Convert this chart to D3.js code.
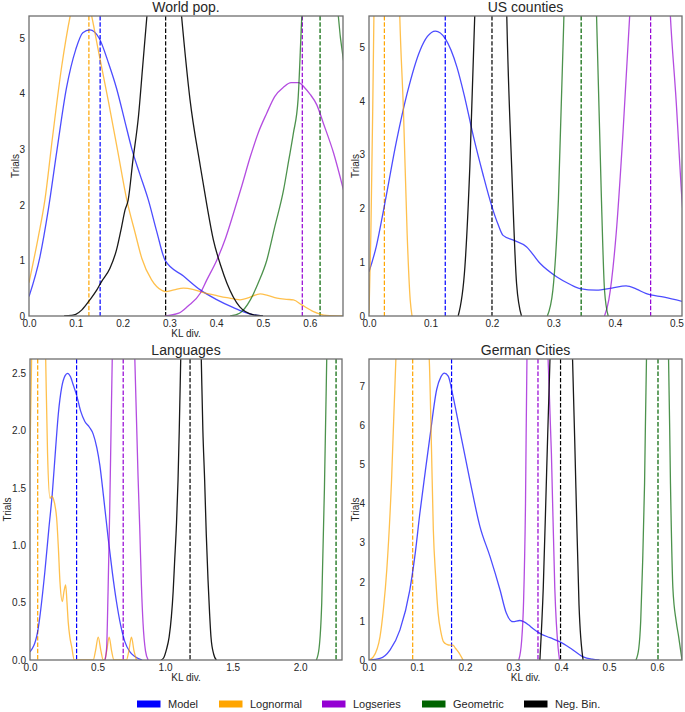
<!DOCTYPE html>
<html>
<head>
<meta charset="utf-8">
<script src="https://cdn.jsdelivr.net/npm/d3@7"></script>
<style>
  html, body { margin: 0; padding: 0; background: #fff; }
  svg { display: block; font-family: "Liberation Sans", Arial, sans-serif; }
</style>
</head>
<body>
<svg id="chart" width="685" height="712"></svg>
<script>
// ---------- DATA ----------
const seriesNames = ["Model", "Lognormal", "Logseries", "Geometric", "Neg. Bin."];
const seriesColors = ["#0000ff", "#ffa500", "#9400d3", "#006400", "#000000"];

// World pop. — KDE curves [KL div., Trials]
const worldModel = [[0,0.35],[0.0235,1.07],[0.041,1.9],[0.06,3.0],[0.08,4.1],[0.10,4.8],[0.115,5.1],[0.13,5.15],[0.15,5.0],[0.17,4.55],[0.187,4.1],[0.205,3.5],[0.22,3.0],[0.237,2.55],[0.255,2.09],[0.273,1.52],[0.291,1.0],[0.33,0.72],[0.366,0.47],[0.40,0.3],[0.437,0.15],[0.46,0.07],[0.48,0.02],[0.50,0]];
const worldLognormal = [[0,0.6],[0.002,0.68],[0.02,1.43],[0.034,2.09],[0.05,3.2],[0.07,4.5],[0.088,5.4],[0.105,6.0],[0.118,6.0],[0.134,5.4],[0.15,4.7],[0.17,3.85],[0.19,2.95],[0.209,2.09],[0.227,1.49],[0.241,1.04],[0.262,0.65],[0.284,0.46],[0.292,0.44],[0.31,0.47],[0.33,0.5],[0.35,0.48],[0.373,0.42],[0.40,0.37],[0.423,0.33],[0.451,0.29],[0.47,0.33],[0.494,0.4],[0.51,0.37],[0.53,0.32],[0.55,0.3],[0.565,0.29],[0.583,0.2],[0.608,0.08],[0.636,0.01],[0.67,0]];
const worldLogseries = [[0.29,0],[0.32,0.05],[0.34,0.18],[0.366,0.41],[0.38,0.65],[0.401,1.0],[0.42,1.4],[0.437,1.85],[0.455,2.35],[0.473,2.87],[0.49,3.3],[0.508,3.65],[0.525,3.95],[0.544,4.12],[0.56,4.2],[0.576,4.2],[0.59,4.1],[0.60,4.0],[0.615,3.8],[0.629,3.47],[0.651,2.93],[0.672,2.27]];
const worldGeometric = [[0.43,0],[0.45,0.05],[0.473,0.29],[0.49,0.6],[0.508,1.0],[0.525,1.6],[0.544,2.27],[0.555,2.8],[0.565,3.29],[0.575,3.9],[0.583,5.4],[0.60,7.5],[0.63,8.5],[0.65,7.0],[0.661,5.4],[0.672,4.6]];
const worldNegBin = [[0.075,0],[0.09,0.01],[0.10,0.03],[0.113,0.11],[0.13,0.29],[0.145,0.47],[0.155,0.62],[0.173,0.86],[0.187,1.19],[0.198,1.61],[0.205,1.9],[0.212,2.09],[0.222,2.8],[0.234,3.6],[0.243,4.5],[0.252,5.4],[0.27,7.0],[0.29,7.6],[0.31,7.0],[0.326,5.4],[0.344,3.9],[0.366,2.7],[0.38,2.0],[0.394,1.37],[0.41,0.9],[0.423,0.59],[0.45,0.17],[0.48,0.02],[0.50,0]];
const worldMedians = [0.152, 0.128, 0.584, 0.622, 0.292];

// US counties
const usModel = [[0,0.82],[0.012,1.3],[0.025,2.05],[0.045,3.27],[0.062,4.14],[0.083,4.94],[0.095,5.2],[0.108,5.3],[0.124,5.16],[0.143,4.63],[0.155,4.1],[0.17,3.33],[0.185,2.65],[0.20,2.03],[0.21,1.7],[0.218,1.5],[0.235,1.41],[0.256,1.29],[0.278,0.98],[0.305,0.73],[0.325,0.6],[0.343,0.51],[0.37,0.48],[0.395,0.52],[0.418,0.56],[0.435,0.5],[0.45,0.42],[0.48,0.35],[0.51,0.27]];
const usLognormal = [[0,0.05],[0.003,1.5],[0.006,3.8],[0.008,5.6],[0.015,12],[0.028,18],[0.04,12],[0.05,5.6],[0.056,3.83],[0.062,1.54],[0.067,0.3],[0.07,0]];
const usLogseries = [[0.383,0],[0.39,0.3],[0.402,1.54],[0.413,3.4],[0.424,5.6],[0.44,10],[0.458,12],[0.475,10],[0.49,5.6],[0.4995,4.0],[0.509,2.16],[0.52,0.8]];
const usGeometric = [[0.29,0],[0.299,0.48],[0.308,2.16],[0.317,5.6],[0.33,12],[0.345,14],[0.36,12],[0.37,5.6],[0.378,2.16],[0.383,0.48],[0.389,0]];
const usNegBin = [[0.145,0],[0.156,0.92],[0.164,2.78],[0.172,5.6],[0.185,12],[0.2,15],[0.215,12],[0.224,5.6],[0.232,2.78],[0.24,0.6],[0.248,0]];
const usMedians = [0.124, 0.025, 0.458, 0.345, 0.2];

// Languages
const langModel = [[0,0.07],[0.057,0.25],[0.11,0.77],[0.14,1.15],[0.165,1.45],[0.19,1.85],[0.21,2.15],[0.235,2.38],[0.26,2.48],[0.278,2.5],[0.30,2.47],[0.32,2.4],[0.345,2.31],[0.375,2.17],[0.406,2.08],[0.44,2.03],[0.468,1.97],[0.495,1.85],[0.517,1.7],[0.545,1.42],[0.579,1.06],[0.61,0.76],[0.64,0.51],[0.67,0.31],[0.702,0.16],[0.74,0.07],[0.776,0.03],[0.83,0]];
const langLognormal = [[0,1.8],[0.012,2.63],[0.03,4.0],[0.06,4.8],[0.09,4.2],[0.116,2.63],[0.13,1.8],[0.148,1.41],[0.16,1.43],[0.172,1.41],[0.197,1.24],[0.21,0.98],[0.222,0.68],[0.239,0.51],[0.252,0.6],[0.264,0.655],[0.274,0.5],[0.283,0.33],[0.295,0.2],[0.308,0.12],[0.328,0],[0.468,0],[0.485,0.08],[0.505,0.2],[0.525,0.08],[0.542,0],[0.553,0],[0.568,0.08],[0.586,0.2],[0.604,0.08],[0.622,0],[0.714,0],[0.732,0.08],[0.751,0.2],[0.77,0.08],[0.788,0]];
const langLogseries = [[0.555,0],[0.567,0.1],[0.578,0.6],[0.59,1.3],[0.60,2.0],[0.609,2.63],[0.65,4.0],[0.69,4.5],[0.73,4.0],[0.776,2.63],[0.80,1.6],[0.813,1.13],[0.825,0.65],[0.837,0.32],[0.855,0.08],[0.875,0]];
const langGeometric = [[2.12,0],[2.14,0.1],[2.16,0.5],[2.18,1.5],[2.197,2.63],[2.23,5],[2.27,6],[2.31,5]];
const langNegBin = [[0.97,0],[0.99,0.02],[1.01,0.09],[1.03,0.2],[1.047,0.38],[1.06,0.6],[1.07,0.84],[1.085,1.2],[1.096,1.57],[1.105,2.0],[1.116,2.63],[1.15,4.5],[1.19,5.2],[1.23,4.5],[1.268,2.63],[1.28,2.0],[1.293,1.57],[1.305,1.1],[1.318,0.7],[1.33,0.4],[1.34,0.2],[1.36,0.05],[1.38,0]];
const langMedians = [0.345, 0.057, 0.69, 2.266, 1.185];

// German Cities
const germanModel = [[0,0],[0.023,0.04],[0.044,0.26],[0.0645,0.77],[0.085,1.79],[0.096,2.7],[0.106,3.76],[0.117,4.8],[0.127,5.72],[0.141,6.92],[0.15,7.25],[0.157,7.34],[0.165,7.26],[0.175,6.75],[0.189,5.89],[0.21,4.61],[0.231,3.42],[0.252,2.65],[0.273,1.79],[0.286,1.2],[0.30,0.98],[0.314,1.01],[0.322,0.98],[0.332,0.9],[0.342,0.8],[0.356,0.68],[0.377,0.57],[0.397,0.47],[0.42,0.3],[0.446,0.08],[0.465,0.02],[0.48,0]];
const germanLognormal = [[0,0],[0.009,0.08],[0.023,0.6],[0.03,1.3],[0.037,2.3],[0.047,4.6],[0.056,7.7],[0.07,10],[0.09,11],[0.11,10],[0.1255,7.7],[0.13,5.5],[0.134,3.33],[0.139,2.1],[0.144,1.2],[0.15,0.7],[0.155,0.47],[0.162,0.4],[0.169,0.38],[0.175,0.38],[0.18,0.3],[0.186,0.21],[0.196,0]];
const germanLogseries = [[0.312,0],[0.318,0.5],[0.322,1.5],[0.326,4],[0.329,7.7],[0.35,14],[0.373,7.7],[0.38,5.26],[0.387,1.84],[0.394,0.3],[0.397,0]];
const germanGeometric = [[0.556,0],[0.562,0.3],[0.566,1.0],[0.57,2.5],[0.574,4.5],[0.578,7.7],[0.6,12],[0.624,7.7],[0.628,4.5],[0.633,1.84],[0.64,0.98],[0.645,0.6],[0.652,0]];
const germanNegBin = [[0.356,0],[0.363,1.84],[0.37,4.8],[0.377,7.7],[0.4,12],[0.424,7.7],[0.431,4.4],[0.4375,1.4],[0.446,0]];
const germanMedians = [0.172, 0.091, 0.352, 0.602, 0.399];

// Axis ticks
const worldXTicks = [0, 0.1, 0.2, 0.3, 0.4, 0.5, 0.6];
const worldYTicks = [0, 1, 2, 3, 4, 5];
const usXTicks = [0, 0.1, 0.2, 0.3, 0.4, 0.5];
const usYTicks = [0, 1, 2, 3, 4, 5];
const langXTicks = [0, 0.5, 1.0, 1.5, 2.0];
const langYTicks = [0, 0.5, 1.0, 1.5, 2.0, 2.5];
const germanXTicks = [0, 0.1, 0.2, 0.3, 0.4, 0.5, 0.6];
const germanYTicks = [0, 1, 2, 3, 4, 5, 6, 7];

// ---------- DRAW ----------
const svg = d3.select("#chart");
svg.append("rect").attr("width", 685).attr("height", 712).attr("fill", "#fff");

const panels = [
  { id: "w", title: "World pop.", box: [29, 16, 343, 316], xd: [0, 0.671], yd: [0, 5.4],
    xt: worldXTicks, yt: worldYTicks, xf: d3.format(".1f"), yf: d3.format("d"),
    series: [worldModel, worldLognormal, worldLogseries, worldGeometric, worldNegBin], med: worldMedians,
    ylabX: 15, xlab: true },
  { id: "u", title: "US counties", box: [369, 16, 682, 316], xd: [0, 0.509], yd: [0, 5.58],
    xt: usXTicks, yt: usYTicks, xf: d3.format(".1f"), yf: d3.format("d"),
    series: [usModel, usLognormal, usLogseries, usGeometric, usNegBin], med: usMedians,
    ylabX: 355, xlab: false },
  { id: "l", title: "Languages", box: [30, 359, 342, 660], xd: [0, 2.31], yd: [0, 2.625],
    xt: langXTicks, yt: langYTicks, xf: d3.format(".1f"), yf: d3.format(".1f"),
    series: [langModel, langLognormal, langLogseries, langGeometric, langNegBin], med: langMedians,
    ylabX: 7.5, xlab: true },
  { id: "g", title: "German Cities", box: [369, 359, 682, 660], xd: [0, 0.652], yd: [0, 7.7],
    xt: germanXTicks, yt: germanYTicks, xf: d3.format(".1f"), yf: d3.format("d"),
    series: [germanModel, germanLognormal, germanLogseries, germanGeometric, germanNegBin], med: germanMedians,
    ylabX: 355, xlab: true }
];

const textColor = "#262626";

panels.forEach(p => {
  const [x0, y0, x1, y1] = p.box;
  const x = d3.scaleLinear().domain(p.xd).range([x0, x1]);
  const y = d3.scaleLinear().domain(p.yd).range([y1, y0]);
  const g = svg.append("g");

  g.append("clipPath").attr("id", "clip-" + p.id)
    .append("rect").attr("x", x0).attr("y", y0).attr("width", x1 - x0).attr("height", y1 - y0);

  const plot = g.append("g").attr("clip-path", `url(#clip-${p.id})`);

  const line = d3.line().x(d => x(d[0])).y(d => y(d[1])).curve(d3.curveMonotoneX);

  // dashed medians
  p.med.forEach((m, i) => {
    plot.append("line")
      .attr("x1", x(m)).attr("x2", x(m)).attr("y1", y0).attr("y2", y1)
      .attr("stroke", seriesColors[i]).attr("stroke-width", 1.2)
      .attr("stroke-dasharray", "4.4,1.9");
  });

  // KDE curves
  p.series.forEach((s, i) => {
    plot.append("path").datum(s)
      .attr("d", line)
      .attr("fill", "none")
      .attr("stroke", seriesColors[i])
      .attr("stroke-opacity", i === 4 ? 0.9 : 0.7)
      .attr("stroke-width", 1.3);
  });

  // axes (no tick marks)
  const xAxis = d3.axisBottom(x).tickValues(p.xt).tickFormat(p.xf).tickSize(0).tickPadding(4);
  const yAxis = d3.axisLeft(y).tickValues(p.yt).tickFormat(p.yf).tickSize(0).tickPadding(4);
  const gx = g.append("g").attr("transform", `translate(0,${y1})`).call(xAxis);
  const gy = g.append("g").attr("transform", `translate(${x0},0)`).call(yAxis);
  [gx, gy].forEach(a => {
    a.select(".domain").remove();
    a.selectAll("text").attr("font-size", 10).attr("fill", textColor)
      .attr("font-family", '"Liberation Sans", Arial, sans-serif');
  });

  // frame
  g.append("rect").attr("x", x0).attr("y", y0).attr("width", x1 - x0).attr("height", y1 - y0)
    .attr("fill", "none").attr("stroke", "#6e6e6e").attr("stroke-width", 1.3);

  // title
  g.append("text").attr("x", (x0 + x1) / 2).attr("y", y0 - 4)
    .attr("text-anchor", "middle").attr("font-size", 14).attr("fill", textColor)
    .text(p.title);

  // y label
  g.append("text")
    .attr("transform", `translate(${p.ylabX + 3.5},${(y0 + y1) / 2}) rotate(-90)`)
    .attr("text-anchor", "middle").attr("font-size", 10).attr("fill", textColor)
    .text("Trials");

  // x label
  if (p.xlab) {
    g.append("text").attr("x", (x0 + x1) / 2).attr("y", y1 + 21)
      .attr("text-anchor", "middle").attr("font-size", 10).attr("fill", textColor)
      .text("KL div.");
  }
});

// legend
const legendX = [137, 219, 322, 422, 524];
const legend = svg.append("g");
seriesNames.forEach((n, i) => {
  legend.append("rect").attr("x", legendX[i]).attr("y", 700.5).attr("width", 23.5).attr("height", 7)
    .attr("fill", seriesColors[i]);
  legend.append("text").attr("x", legendX[i] + 31).attr("y", 707.5)
    .attr("font-size", 11).attr("fill", textColor).text(n);
});
</script>
</body>
</html>
